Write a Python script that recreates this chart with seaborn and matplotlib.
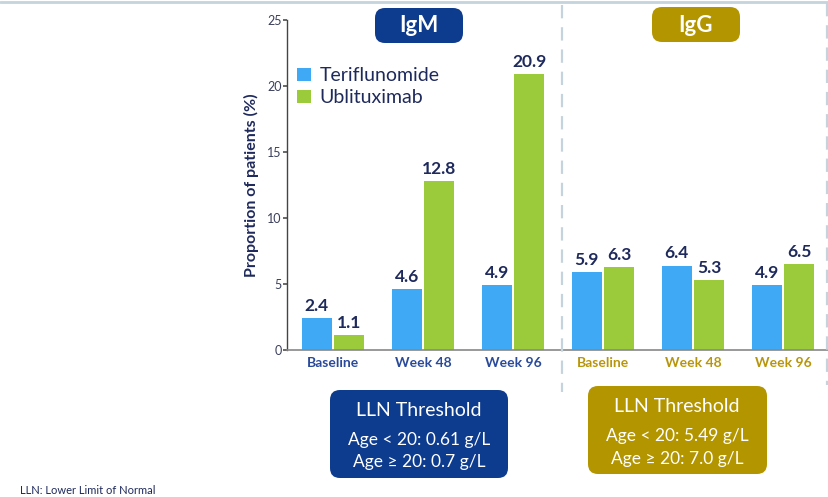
import matplotlib
matplotlib.use("Agg")
import matplotlib.pyplot as plt
import pandas as pd
import seaborn as sns
from matplotlib.patches import FancyBboxPatch
from matplotlib.lines import Line2D

# data
groups = ["IgM", "IgM", "IgM", "IgG", "IgG", "IgG"]
timepoints = ["Baseline", "Week 48", "Week 96", "Baseline", "Week 48", "Week 96"]
teriflunomide = [2.4, 4.6, 4.9, 5.9, 6.4, 4.9]
ublituximab = [1.1, 12.8, 20.9, 6.3, 5.3, 6.5]
treatments = ["Teriflunomide", "Ublituximab"]
y_ticks = [0, 5, 10, 15, 20, 25]
igm_lln = ["LLN Threshold", "Age < 20: 0.61 g/L", "Age \u2265 20: 0.7 g/L"]
igg_lln = ["LLN Threshold", "Age < 20: 5.49 g/L", "Age \u2265 20: 7.0 g/L"]

NAVY = "#0D3B8E"
GOLD = "#B39500"
TEXT = "#1F2A5C"
palette = {"Teriflunomide": "#3FA9F5", "Ublituximab": "#9BCB3B"}
group_colors = {"IgM": "#2A4A9A", "IgG": "#B8960C"}


def main():
    sns.set_theme(style="white")
    plt.rcParams["font.family"] = ["Lato", "DejaVu Sans"]

    keys = [f"{g} {t}" for g, t in zip(groups, timepoints)]
    df = pd.DataFrame({
        "key": keys * 2,
        "treatment": [treatments[0]] * 6 + [treatments[1]] * 6,
        "value": teriflunomide + ublituximab,
    })

    fig = plt.figure(figsize=(8.29, 4.97), dpi=100)
    W, H = 829, 497
    ax = fig.add_axes([287 / W, 1 - 350 / H, 1 - 287 / W, 330 / H])

    sns.barplot(data=df, x="key", y="value", hue="treatment", order=keys,
                hue_order=treatments, palette=palette, width=0.72, gap=0.08,
                saturation=1, edgecolor="none", ax=ax)

    ax.set_xlim(-0.51, 5.51)
    ax.set_ylim(0, 25)
    ax.set_yticks(y_ticks)
    ax.tick_params(axis="y", labelsize=9, labelcolor="#3A3F5C", length=3,
                   direction="out", left=True, pad=1, color="#555555")
    ax.tick_params(axis="x", length=0, pad=5)
    ax.set_xticks(range(len(keys)))
    ax.set_xticklabels(timepoints, fontsize=10, fontweight="bold")
    for lbl, g in zip(ax.get_xticklabels(), groups):
        lbl.set_color(group_colors[g])
    ax.set_xlabel("")
    ax.set_ylabel("Proportion of patients (%)", fontsize=11.5, fontweight="bold",
                  color=TEXT, labelpad=6)

    for side in ["top", "right"]:
        ax.spines[side].set_visible(False)
    ax.spines["left"].set_color("#444444")
    ax.spines["bottom"].set_color("#888888")
    ax.spines["left"].set_linewidth(1)
    ax.spines["bottom"].set_linewidth(1.2)

    for cont in ax.containers:
        ax.bar_label(cont, fmt="%.1f", padding=3, fontsize=12.5,
                     fontweight="bold", color=TEXT)

    leg = ax.legend(loc="upper left", bbox_to_anchor=(0.005, 0.88), frameon=False,
                    fontsize=14, handlelength=0.7, handleheight=0.7,
                    handletextpad=0.45, labelspacing=0.25, borderaxespad=0)
    for t in leg.get_texts():
        t.set_color(TEXT)

    # decorative lines
    dash = "#C5D3DC"
    fig.add_artist(Line2D([0, 1], [1 - 1.5 / H, 1 - 1.5 / H], color=dash, lw=2))
    fig.add_artist(Line2D([562 / W, 562 / W], [1 - 5 / H, 1 - 392 / H],
                          color=dash, lw=1.6, ls=(0, (6, 4))))
    fig.add_artist(Line2D([827 / W, 827 / W], [1 - 3 / H, 1 - 385 / H],
                          color=dash, lw=1.6, ls=(0, (6, 4))))

    def box(x0, y0, x1, y1, color):
        fig.add_artist(FancyBboxPatch(
            (x0 / W, 1 - y1 / H), (x1 - x0) / W, (y1 - y0) / H,
            boxstyle="round,pad=0,rounding_size=0.012", transform=fig.transFigure,
            facecolor=color, edgecolor="none", mutation_aspect=W / H))

    box(375, 8, 463, 43, NAVY)
    fig.text(419 / W, 1 - 26 / H, "IgM", ha="center", va="center",
             fontsize=16, fontweight="bold", color="white")
    box(652, 7, 740, 42, GOLD)
    fig.text(696 / W, 1 - 25 / H, "IgG", ha="center", va="center",
             fontsize=16, fontweight="bold", color="white")

    box(330, 390, 508, 478, NAVY)
    for txt, y, fs in zip(igm_lln, [411, 440, 462], [14, 12.5, 12.5]):
        fig.text(419 / W, 1 - y / H, txt, ha="center", va="center",
                 fontsize=fs, color="white")
    box(588, 386, 767, 474, GOLD)
    for txt, y, fs in zip(igg_lln, [407, 436, 459], [14, 12.5, 12.5]):
        fig.text(677 / W, 1 - y / H, txt, ha="center", va="center",
                 fontsize=fs, color="white")

    fig.text(20 / W, 1 - 491 / H, "LLN: Lower Limit of Normal", ha="left",
             va="center", fontsize=8, color=TEXT)

    fig.savefig("out.png", dpi=100)
    plt.close(fig)


if __name__ == "__main__":
    main()
